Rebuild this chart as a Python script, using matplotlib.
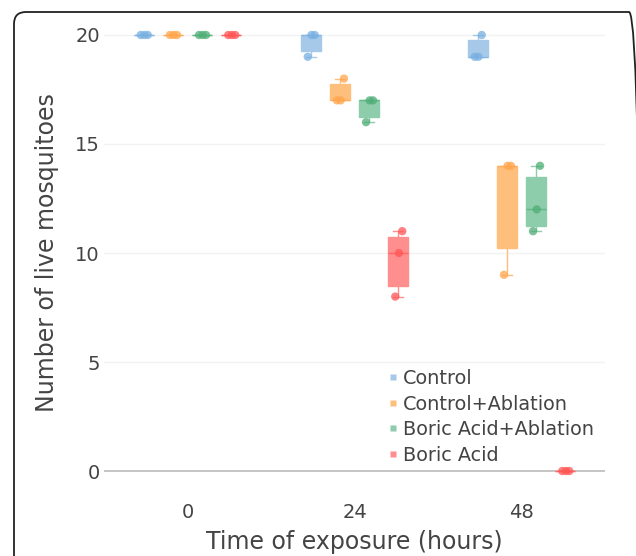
import numpy as np
import matplotlib
matplotlib.use("Agg")
import matplotlib.pyplot as plt
from matplotlib.patches import FancyBboxPatch
from matplotlib.lines import Line2D

# ---- data ----
times = ["0", "24", "48"]
groups = ["Control", "Control+Ablation", "Boric Acid+Ablation", "Boric Acid"]
control = [[20, 20, 20], [19, 20, 20], [19, 19, 20]]
control_ablation = [[20, 20, 20], [17, 17, 18], [9, 14, 14]]
boric_ablation = [[20, 20, 20], [16, 17, 17], [11, 12, 14]]
boric = [[20, 20, 20], [8, 10, 11], [0, 0, 0]]
series = [control, control_ablation, boric_ablation, boric]

# ---- style ----
point_colors = ["#78afe1", "#ffa54c", "#4fae76", "#ff5555"]
fill_colors = ["#a6c9ea", "#ffbf7c", "#8dcdab", "#ff8e8e"]
offsets = [-0.262, -0.087, 0.087, 0.262]
jitter = [-0.018, 0.004, 0.024]
box_w = 0.12

W, H = 636, 556
fig = plt.figure(figsize=(W / 100, H / 100), dpi=100)
ax = fig.add_axes([104 / W, (H - 495) / H, 501 / W, 484 / H])

for gi, (data, pc, fc, off) in enumerate(zip(series, point_colors, fill_colors, offsets)):
    stats = []
    positions = []
    for ti, vals in enumerate(data):
        v = np.array(vals, dtype=float)
        q1, med, q3 = np.percentile(v, [25, 50, 75], method="hazen")
        stats.append(dict(med=med, q1=q1, q3=q3, whislo=v.min(), whishi=v.max(), fliers=[]))
        positions.append(ti + off)
    ax.bxp(stats, positions=positions, widths=box_w, capwidths=box_w / 2,
           patch_artist=True, showfliers=False, manage_ticks=False,
           boxprops=dict(facecolor=fc, edgecolor=fc, linewidth=1.0),
           whiskerprops=dict(color=fc, linewidth=1.0),
           capprops=dict(color=fc, linewidth=1.0),
           medianprops=dict(color=pc, linewidth=1.0, alpha=0.7))
    for ti, vals in enumerate(data):
        xs = [ti + off + j for j in jitter]
        ax.scatter(xs, vals, s=36, color=pc, alpha=0.75, edgecolors="none", zorder=5)

ax.set_xlim(-0.5, 2.5)
ax.set_ylim(-1.1, 21.1)
ax.set_xticks(range(len(times)))
ax.set_xticklabels(times)
ax.set_yticks([0, 5, 10, 15, 20])
for s in ax.spines.values():
    s.set_visible(False)
ax.tick_params(axis="both", length=0, labelsize=14, labelcolor="#444444")
ax.tick_params(axis="y", pad=3)
ax.tick_params(axis="x", pad=6)
for yv in [5, 10, 15, 20]:
    ax.axhline(yv, color="#f2f2f2", lw=1, zorder=0)
ax.axhline(0, color="#bbbbbb", lw=1.2, zorder=1)

ax.set_ylabel("Number of live mosquitoes", fontsize=17, color="#444444")
ax.yaxis.label.set_va("center")
ax.yaxis.set_label_coords(-0.114, 0.5)
ax.set_xlabel("Time of exposure (hours)", fontsize=17, color="#444444")
ax.xaxis.label.set_va("center")
ax.xaxis.set_label_coords(0.5, -0.097)

handles = [Line2D([], [], marker="s", linestyle="none", markersize=4,
                  markerfacecolor=fc, markeredgecolor="none") for fc in fill_colors]
leg = ax.legend(handles, groups, loc="upper left",
                bbox_to_anchor=((389 - 104) / 501, (495 - 369) / 484),
                frameon=False, fontsize=13.9, handlelength=0.4, handletextpad=0.3,
                labelspacing=0.34, borderpad=0, borderaxespad=0)
for t in leg.get_texts():
    t.set_color("#444444")

border = FancyBboxPatch((14, -60), 627, H - 12 + 60,
                        boxstyle="round,pad=0,rounding_size=12",
                        transform=None, fill=False, edgecolor="#222222", linewidth=1.3)
fig.patches.append(border)

fig.savefig("out.png", dpi=100)
